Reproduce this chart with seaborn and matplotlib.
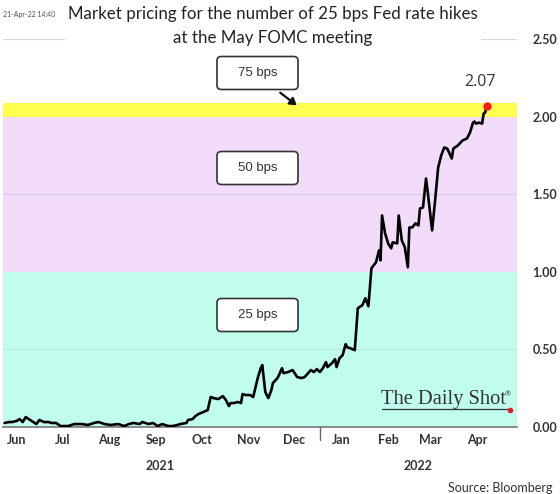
import matplotlib
matplotlib.use("Agg")
import matplotlib.pyplot as plt
import matplotlib.dates as mdates
from matplotlib.patches import FancyBboxPatch
import seaborn as sns
import pandas as pd
import numpy as np

# ---------------- data ----------------
dates = [
    "2021-06-07", "2021-06-10", "2021-06-12", "2021-06-15", "2021-06-17", "2021-06-19",
    "2021-06-21", "2021-06-23", "2021-06-26", "2021-06-28", "2021-06-30", "2021-07-03",
    "2021-07-06", "2021-07-08", "2021-07-11", "2021-07-14", "2021-07-19", "2021-07-23",
    "2021-07-28", "2021-08-01", "2021-08-05", "2021-08-08", "2021-08-12", "2021-08-16",
    "2021-08-21", "2021-08-25", "2021-08-28", "2021-08-31", "2021-09-04", "2021-09-06",
    "2021-09-10", "2021-09-13", "2021-09-16", "2021-09-19", "2021-09-23", "2021-09-26",
    "2021-09-29", "2021-10-01", "2021-10-05", "2021-10-06", "2021-10-09", "2021-10-11",
    "2021-10-13", "2021-10-16", "2021-10-19", "2021-10-21", "2021-10-23", "2021-10-26",
    "2021-10-29", "2021-10-31", "2021-11-02", "2021-11-03", "2021-11-05", "2021-11-08",
    "2021-11-10", "2021-11-11", "2021-11-13", "2021-11-16", "2021-11-18", "2021-11-21",
    "2021-11-23", "2021-11-24", "2021-11-25", "2021-11-26", "2021-11-28", "2021-11-30",
    "2021-12-01", "2021-12-04", "2021-12-05", "2021-12-07", "2021-12-08", "2021-12-11",
    "2021-12-14", "2021-12-17", "2021-12-20", "2021-12-22", "2021-12-26", "2021-12-28",
    "2021-12-30", "2022-01-01", "2022-01-03", "2022-01-05", "2022-01-06", "2022-01-09",
    "2022-01-11", "2022-01-12", "2022-01-14", "2022-01-16", "2022-01-18", "2022-01-19",
    "2022-01-21", "2022-01-24", "2022-01-26", "2022-01-29", "2022-01-31", "2022-02-02",
    "2022-02-04", "2022-02-06", "2022-02-07", "2022-02-09", "2022-02-10", "2022-02-11",
    "2022-02-13", "2022-02-15", "2022-02-17", "2022-02-18", "2022-02-21", "2022-02-22",
    "2022-02-24", "2022-02-26", "2022-02-28", "2022-03-01", "2022-03-03", "2022-03-05",
    "2022-03-07", "2022-03-08", "2022-03-10", "2022-03-12", "2022-03-13", "2022-03-16",
    "2022-03-18", "2022-03-20", "2022-03-22", "2022-03-24", "2022-03-26", "2022-03-29",
    "2022-03-30", "2022-04-02", "2022-04-05", "2022-04-08", "2022-04-10", "2022-04-12",
    "2022-04-13", "2022-04-14", "2022-04-16", "2022-04-18", "2022-04-19", "2022-04-20",
    "2022-04-21",
]
hikes = [
    0.026, 0.032, 0.032, 0.039, 0.051, 0.032,
    0.064, 0.051, 0.032, 0.019, 0.045, 0.032,
    0.032, 0.026, 0.026, 0.006, 0.006, 0.019,
    0.019, 0.013, 0.026, 0.032, 0.019, 0.013,
    0.019, 0.006, 0.019, 0.026, 0.019, 0.032,
    0.019, 0.026, 0.006, 0.019, 0.006, 0.006,
    0.013, 0.019, 0.026, 0.045, 0.051, 0.071,
    0.084, 0.096, 0.109, 0.193, 0.186, 0.180,
    0.199, 0.174, 0.135, 0.154, 0.154, 0.161,
    0.154, 0.212, 0.206, 0.206, 0.193, 0.315,
    0.379, 0.399, 0.315, 0.225, 0.186, 0.238,
    0.283, 0.315, 0.334, 0.379, 0.347, 0.354,
    0.367, 0.322, 0.315, 0.322, 0.367, 0.354,
    0.373, 0.354, 0.379, 0.418, 0.386, 0.412,
    0.437, 0.386, 0.444, 0.463, 0.534, 0.514,
    0.508, 0.495, 0.765, 0.785, 0.830, 0.778,
    1.023, 1.048, 1.061, 1.138, 1.074, 1.363,
    1.248, 1.183, 1.151, 1.190, 1.183, 1.363,
    1.203, 1.158, 1.029, 1.286, 1.286, 1.312,
    1.299, 1.408, 1.415, 1.601, 1.524, 1.267,
    1.460, 1.672, 1.749, 1.801, 1.794, 1.730,
    1.794, 1.814, 1.846, 1.859, 1.897, 1.961,
    1.968, 1.955, 1.961, 1.955, 2.019, 2.026,
    2.07,
]
bands = [(0.0, 1.0, "#c0fdef"), (1.0, 2.0, "#f2dcfa"), (2.0, 2.085, "#ffff50")]
band_labels = ["25 bps", "50 bps", "75 bps"]
month_labels = ["Jun", "Jul", "Aug", "Sep", "Oct", "Nov", "Dec", "Jan", "Feb", "Mar", "Apr"]
year_labels = ["2021", "2022"]
yticks = [0.0, 0.5, 1.0, 1.5, 2.0, 2.5]
title = "Market pricing for the number of 25 bps Fed rate hikes\nat the May FOMC meeting"
timestamp = "21-Apr-22 14:40"
source = "Source: Bloomberg"
last_label = "2.07"

df = pd.DataFrame({"date": pd.to_datetime(dates), "hikes": hikes})

# ---------------- figure ----------------
sns.set_theme(style="white")
plt.rcParams["font.family"] = ["Lato", "DejaVu Sans"]

W, H = 560, 494
fig = plt.figure(figsize=(W / 100, H / 100), dpi=100)
fig.patch.set_facecolor("white")

def fx(px):
    return px / W

def fy(py):
    return 1 - py / H

ax = fig.add_axes([fx(3), fy(427), fx(517) - fx(3), fy(39) - fy(427)])
ax.set_facecolor("white")

for lo, hi, col in bands:
    ax.axhspan(lo, hi, color=col, zorder=0, lw=0)
ax.axhline(0.5, color="#b9e8dc", lw=0.9, zorder=0.5)
ax.axhline(1.5, color="#d9cfe0", lw=0.9, zorder=0.5)
ax.axhline(2.5, color="#d8d8d8", lw=0.9, zorder=0.5)

sns.lineplot(data=df, x="date", y="hikes", ax=ax, color="black", lw=1.9, zorder=3)
ax.plot(df["date"].iloc[-1], df["hikes"].iloc[-1], "o", color="#ff1a1a", ms=5, zorder=4)
ax.annotate(last_label, (df["date"].iloc[-1], df["hikes"].iloc[-1]),
            xytext=(-5, 11), textcoords="offset points", ha="center", va="bottom",
            fontsize=11.5, color="#333333", family=["Open Sans", "DejaVu Sans"])

ax.set_xlim(pd.Timestamp("2021-06-06"), pd.Timestamp("2022-05-11"))
ax.set_ylim(0, 2.5)
ax.set_xlabel("")
ax.set_ylabel("")

# x axis: month boundaries as ticks, labels at mid-month
ax.xaxis.set_major_locator(mdates.MonthLocator(bymonth=[1, 2, 3, 4, 5, 7, 8, 9, 10, 11, 12]))
ax.xaxis.set_major_formatter(plt.NullFormatter())
ax.xaxis.set_minor_locator(mdates.MonthLocator(bymonthday=15))
ax.xaxis.set_minor_formatter(mdates.DateFormatter("%b"))
ax.tick_params(axis="x", which="major", direction="in", length=4, color="#666666", width=0.9)
ax.tick_params(axis="x", which="minor", length=0, pad=5, labelsize=9,
               labelcolor="#333333")
for lab in ax.get_xticklabels(minor=True):
    lab.set_fontweight("bold")

ax.yaxis.tick_right()
ax.set_yticks(yticks)
ax.set_yticklabels([f"{v:.2f}" for v in yticks])
ax.tick_params(axis="y", length=0, pad=11, labelsize=9, labelcolor="#333333")
for lab in ax.get_yticklabels():
    lab.set_fontweight("bold")

for s in ["left", "right", "top"]:
    ax.spines[s].set_visible(False)
ax.spines["bottom"].set_color("#777777")
ax.spines["bottom"].set_linewidth(1.2)

# year separator
ax.plot([pd.Timestamp("2022-01-01")] * 2, [0, -0.085], color="#666666", lw=1.0,
        clip_on=False, zorder=5)

# year labels
fig.text(fx(160), fy(466), year_labels[0], ha="center", va="center", fontsize=9,
         fontweight="bold", color="#333333")
fig.text(fx(418), fy(466), year_labels[1], ha="center", va="center", fontsize=9,
         fontweight="bold", color="#333333")
fig.text(fx(553), fy(488), source, ha="right", va="center", fontsize=9, color="#333333")

# title & timestamp
fig.text(fx(273), fy(26), title, ha="center", va="center", fontsize=12.2, color="#222222",
         linespacing=1.55,
         bbox=dict(facecolor="white", edgecolor="none", pad=2))
fig.text(fx(3), fy(14), timestamp, ha="left", va="center", fontsize=5, color="#555555")

# labelled boxes
box_centers = {"25 bps": 315, "50 bps": 168, "75 bps": 73}
for lab in band_labels:
    cy = box_centers[lab]
    patch = FancyBboxPatch((fx(217), fy(cy + 16.5)), fx(81), 33 / H,
                           boxstyle="round,pad=0,rounding_size=0.008",
                           transform=fig.transFigure, facecolor="white",
                           edgecolor="#333333", lw=1.2, zorder=10)
    fig.add_artist(patch)
    fig.text(fx(257.5), fy(cy), lab, ha="center", va="center", fontsize=9.5,
             color="#333333", family=["Liberation Sans", "DejaVu Sans"], zorder=11)

# arrow from 75 bps box to yellow band
fig.add_artist(matplotlib.patches.FancyArrowPatch(
    (fx(278), fy(91)), (fx(299), fy(107)), transform=fig.transFigure,
    arrowstyle="-|>,head_length=4,head_width=2.5", color="#111111", lw=1.6, zorder=12))

# watermark
fig.text(fx(381), fy(404), "The Daily Shot", ha="left", va="baseline", fontsize=14.8,
         color="#333333", family=["Liberation Serif", "DejaVu Serif"])
fig.text(fx(505), fy(396), "®", ha="left", va="baseline", fontsize=5, color="#333333")
fig.add_artist(matplotlib.lines.Line2D([fx(382), fx(509)], [fy(409), fy(409)],
                                       transform=fig.transFigure, color="#333333", lw=0.9))
fig.add_artist(matplotlib.lines.Line2D([fx(510)], [fy(409.5)], marker="o", ms=3,
                                       color="#e02020", transform=fig.transFigure))

fig.savefig("out.png", dpi=100)
